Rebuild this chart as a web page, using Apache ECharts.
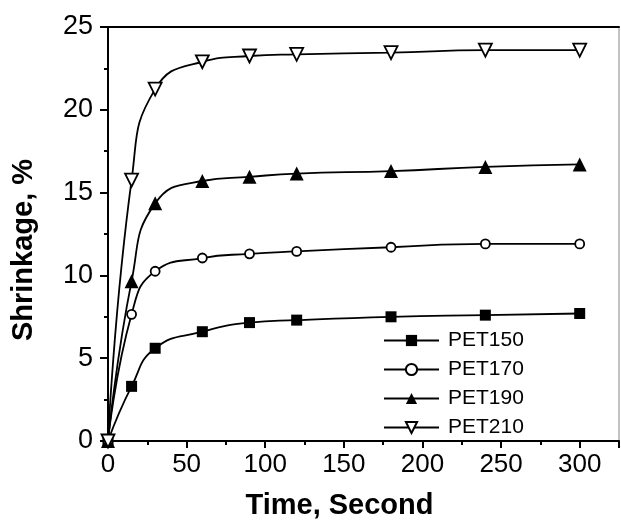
<!DOCTYPE html>
<html>
<head>
<meta charset="utf-8">
<style>
  html, body { margin: 0; padding: 0; background: #fff; }
  #chart { width: 621px; height: 525px; }
</style>
<script src="https://cdn.jsdelivr.net/npm/echarts@6/dist/echarts.min.js"></script>
</head>
<body>
<div id="chart"></div>
<script>
const times = [0, 15, 30, 60, 90, 120, 180, 240, 300];
const pet150 = [0, 3.3, 5.6, 6.6, 7.15, 7.3, 7.5, 7.6, 7.7];
const pet170 = [0, 7.65, 10.25, 11.05, 11.3, 11.45, 11.7, 11.9, 11.9];
const pet190 = [0, 9.65, 14.35, 15.7, 15.95, 16.15, 16.3, 16.55, 16.7];
const pet210 = [0, 15.75, 21.25, 22.9, 23.25, 23.35, 23.45, 23.6, 23.6];

const font = '"Liberation Sans", Arial, sans-serif';

const pairs = (ys) => times.map((t, i) => [t, ys[i]]);

const makeSeries = (name, ys, symbol, size, filled, rotate) => ({
    name: name,
    type: 'line',
    data: pairs(ys),
    smooth: 0.5,
    symbol: symbol,
    symbolSize: size,
    symbolRotate: rotate || 0,
    showAllSymbol: true,
    lineStyle: { color: '#000', width: 1.8 },
    itemStyle: {
        color: filled ? '#000' : '#fff',
        borderColor: '#000',
        borderWidth: filled ? 0 : 1.8,
    },
    emphasis: { disabled: true },
    z: filled ? 3 : 4,
});

const chart = echarts.init(document.getElementById('chart'));

chart.setOption({
    animation: false,
    backgroundColor: '#fff',
    grid: {
        left: 108,
        top: 27,
        right: 2,
        bottom: 79,
        show: true,
        borderColor: '#888',
        borderWidth: 1,
    },
    legend: {
        orient: 'vertical',
        left: 383,
        top: 330,
        padding: 0,
        itemWidth: 55,
        itemHeight: 14,
        itemGap: 8,
        textStyle: { fontFamily: font, fontSize: 21, color: '#000', padding: [0, 0, 0, 4] },
        data: ['PET150', 'PET170', 'PET190', 'PET210'],
    },
    xAxis: [
        {
            type: 'value',
            min: 0,
            max: 325,
            interval: 50,
            name: 'Time, Second',
            nameLocation: 'middle',
            nameGap: 50,
            nameTextStyle: {
                fontFamily: font,
                fontSize: 29,
                fontWeight: 'bold',
                color: '#000',
                padding: [0, 48, 0, 0],
            },
            splitLine: { show: false },
            axisLine: { lineStyle: { color: '#000', width: 2 } },
            axisTick: { show: true, length: 7, lineStyle: { color: '#000', width: 2 } },
            minorTick: { show: true, splitNumber: 2, length: 4, lineStyle: { color: '#000', width: 2 } },
            axisLabel: {
                showMaxLabel: false,
                margin: 11,
                fontFamily: font,
                fontSize: 26,
                color: '#000',
            },
        },
        {
            type: 'value',
            position: 'top',
            min: 0,
            max: 325,
            axisLine: { show: true, onZero: false, lineStyle: { color: '#000', width: 2 } },
            axisTick: { show: false },
            axisLabel: { show: false },
            splitLine: { show: false },
        },
    ],
    yAxis: {
        type: 'value',
        min: 0,
        max: 25,
        interval: 5,
        name: 'Shrinkage, %',
        nameLocation: 'middle',
        nameRotate: 90,
        nameGap: 70,
        nameTextStyle: {
            fontFamily: font,
            fontSize: 29,
            fontWeight: 'bold',
            color: '#000',
            padding: [0, 32, 0, 0],
        },
        splitLine: { show: false },
        axisLine: { show: true, lineStyle: { color: '#000', width: 2 } },
        axisTick: { show: true, length: 8, lineStyle: { color: '#000', width: 2 } },
        minorTick: { show: true, splitNumber: 2, length: 4, lineStyle: { color: '#000', width: 2 } },
        axisLabel: {
            margin: 15,
            fontFamily: font,
            fontSize: 27,
            color: '#000',
        },
    },
    series: [
        makeSeries('PET150', pet150, 'rect', 11, true),
        makeSeries('PET170', pet170, 'circle', 9, false),
        makeSeries('PET190', pet190, 'triangle', 14, true),
        makeSeries('PET210', pet210, 'triangle', 13, false, 180),
    ],
});

window.addEventListener('resize', chart.resize);
</script>
</body>
</html>
